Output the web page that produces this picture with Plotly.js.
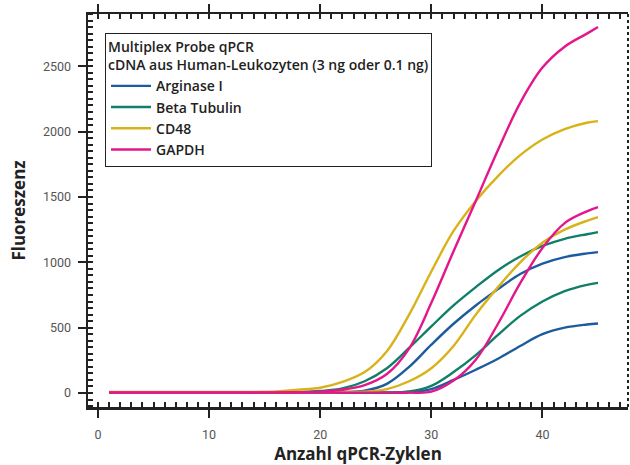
<!DOCTYPE html>
<html>
<head>
<meta charset="utf-8">
<script src="https://cdn.plot.ly/plotly-3.0.1.min.js"></script>
<style>html,body{margin:0;padding:0;background:#fff;}#chart{width:630px;height:465px;}</style>
</head>
<body>
<div id="chart"></div>
<script>
// Cycle numbers at which the curves were read
var cycles = [1, 10, 16, 18, 20, 22, 24, 26, 28, 30, 32, 34, 36, 38, 40, 42, 44, 45];

// 3 ng series
var arginaseHigh = [3, 3, 3, 4, 5, 8, 18, 70, 200, 370, 530, 670, 795, 910, 990, 1040, 1068, 1078];
var betaHigh     = [5, 5, 6, 8, 15, 35, 90, 190, 345, 510, 670, 810, 940, 1045, 1125, 1180, 1215, 1231];
var cd48High     = [8, 8, 12, 25, 40, 85, 160, 320, 600, 930, 1240, 1470, 1660, 1820, 1940, 2020, 2068, 2080];
var gapdhHigh    = [5, 5, 5, 6, 10, 25, 60, 145, 340, 690, 1085, 1470, 1860, 2220, 2490, 2650, 2750, 2800];

// 0.1 ng series
var arginaseLow = [2, 2, 2, 2, 2, 2, 2, 3, 5, 30, 100, 178, 262, 360, 450, 500, 524, 532];
var betaLow     = [3, 3, 3, 3, 3, 3, 3, 4, 12, 55, 160, 290, 445, 590, 700, 780, 828, 843];
var cd48Low     = [5, 5, 5, 5, 5, 8, 10, 30, 90, 190, 360, 600, 810, 1000, 1150, 1250, 1318, 1346];
var gapdhLow    = [3, 3, 3, 3, 3, 3, 3, 3, 3, 10, 95, 255, 530, 840, 1110, 1300, 1390, 1422];

var geneNames = ["Arginase I", "Beta Tubulin", "CD48", "GAPDH"];
var geneColors = ["#1c5b9e", "#0f7f68", "#d9b21a", "#e3168b"];
var highSeries = [arginaseHigh, betaHigh, cd48High, gapdhHigh];
var lowSeries = [arginaseLow, betaLow, cd48Low, gapdhLow];

var traces = [];
for (var i = 0; i < geneNames.length; i++) {
  traces.push({
    x: cycles, y: highSeries[i], type: "scatter", mode: "lines",
    name: geneNames[i], legendgroup: geneNames[i], showlegend: true,
    line: {color: geneColors[i], width: 2.4, shape: "spline", smoothing: 1}
  });
  traces.push({
    x: cycles, y: lowSeries[i], type: "scatter", mode: "lines",
    name: geneNames[i] + " (0.1 ng)", legendgroup: geneNames[i], showlegend: false,
    line: {color: geneColors[i], width: 2.4, shape: "spline", smoothing: 1}
  });
}

var axisColor = "#222";
var titleFont = "'Open Sans', 'DejaVu Sans', sans-serif";
var layout = {
  width: 630, height: 465,
  margin: {l: 88, r: 2, t: 14, b: 58},
  paper_bgcolor: "#fff", plot_bgcolor: "#fff",
  font: {family: "Roboto, 'DejaVu Sans', sans-serif", color: "#222"},
  showlegend: true,
  legend: {
    x: 0.0315, y: 0.952, xanchor: "left", yanchor: "top",
    bordercolor: "#222", borderwidth: 1, bgcolor: "#fff",
    font: {family: titleFont, size: 14, color: "#222", weight: 600},
    title: {text: "Multiplex Probe qPCR<br>cDNA aus Human-Leukozyten (3 ng oder 0.1 ng)", side: "top",
            font: {family: titleFont, size: 14, color: "#222", weight: 600}},
    itemwidth: 40,
    traceorder: "normal"
  },
  xaxis: {
    range: [-0.9, 47.7], showgrid: false, zeroline: false,
    showline: true, linecolor: axisColor, linewidth: 2.5, mirror: "ticks",
    ticks: "outside", ticklen: 8, tickwidth: 2, tickcolor: axisColor,
    tick0: 0, dtick: 10,
    minor: {ticks: "inside", dtick: 1, ticklen: 5, tickwidth: 2, tickcolor: axisColor},
    tickfont: {size: 12.5, color: "#555"},
    ticklabelstandoff: 6,
    title: {text: "Anzahl qPCR-Zyklen", font: {family: titleFont, size: 17, color: "#222", weight: 700}, standoff: 19}
  },
  yaxis: {
    range: [-107, 2900], showgrid: false, zeroline: false,
    showline: true, linecolor: axisColor, linewidth: 2.5, mirror: false,
    ticks: "outside", ticklen: 8, tickwidth: 2, tickcolor: axisColor,
    tick0: 0, dtick: 500,
    minor: {ticks: "inside", dtick: 50, ticklen: 5, tickwidth: 2, tickcolor: axisColor},
    tickfont: {size: 12.5, color: "#555"},
    ticklabelstandoff: 4,
    title: {text: "Fluoreszenz", font: {family: titleFont, size: 17, color: "#222", weight: 700}, standoff: 13}
  },
  yaxis2: {
    overlaying: "y", side: "right", range: [-107, 2900], showgrid: false, zeroline: false,
    showline: false, ticks: "inside", ticklen: 5, tickwidth: 2, tickcolor: axisColor,
    tick0: 0, dtick: 500, showticklabels: false
  },
  shapes: [{
    type: "line", xref: "paper", yref: "paper", x0: 1, x1: 1, y0: 0, y1: 1,
    line: {color: axisColor, width: 2, dash: "dot"}
  }]
};

Plotly.newPlot("chart", traces, layout, {displayModeBar: false, staticPlot: true});
</script>
</body>
</html>
